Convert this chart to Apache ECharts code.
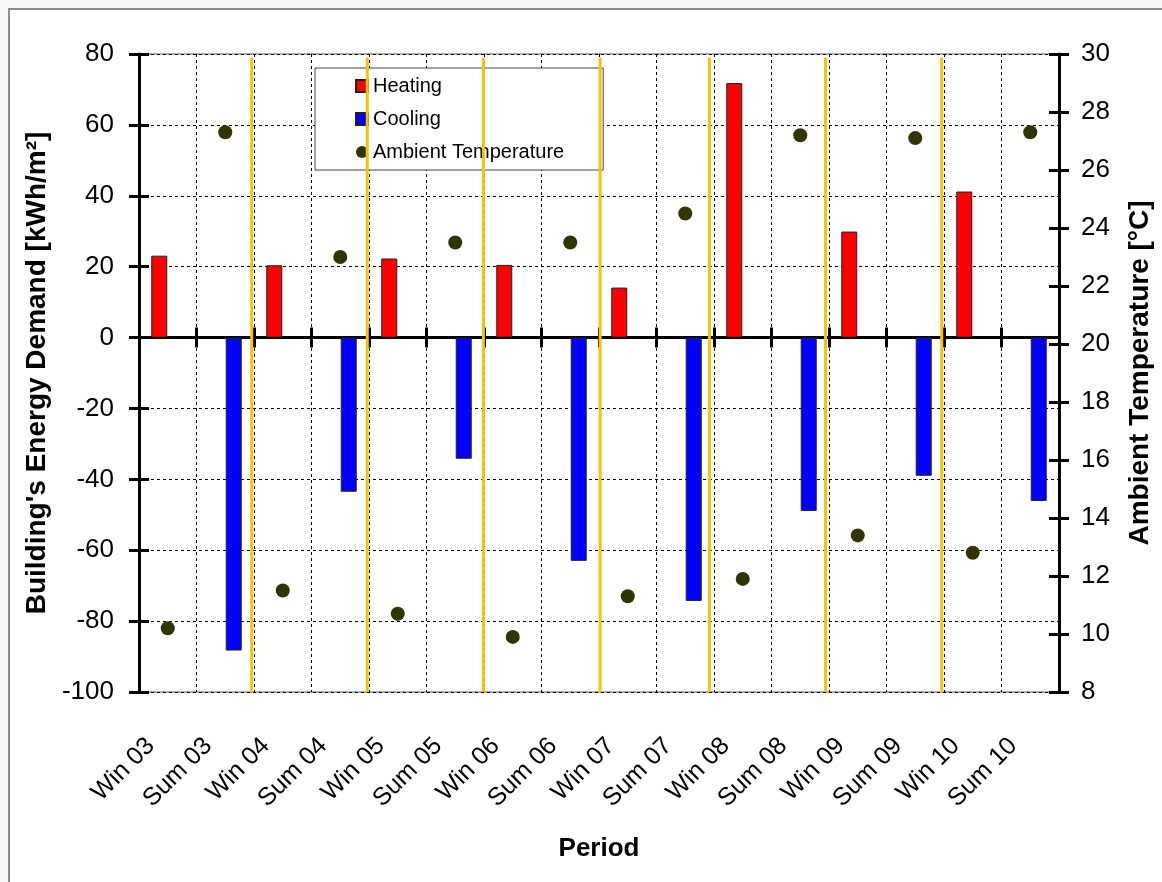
<!DOCTYPE html>
<html>
<head>
<meta charset="utf-8">
<script src="https://cdn.jsdelivr.net/npm/echarts@6/dist/echarts.min.js"></script>
<style>
html,body{margin:0;padding:0;background:#f8f8fa;width:1162px;height:882px;overflow:hidden;}
#frame{position:absolute;left:8px;top:8px;width:1170px;height:890px;border-left:2px solid #8c8c8c;border-top:2px solid #8c8c8c;background:#fff;}
#chart{position:absolute;left:0;top:0;width:1162px;height:882px;}
</style>
</head>
<body>
<div id="frame"></div>
<div id="chart"></div>
<script>
const categories = ['Win 03','Sum 03','Win 04','Sum 04','Win 05','Sum 05','Win 06','Sum 06','Win 07','Sum 07','Win 08','Sum 08','Win 09','Sum 09','Win 10','Sum 10'];
const heating = [23.1,null,20.4,null,22.3,null,20.5,null,14.1,null,71.8,null,29.9,null,41.2,null];
const cooling = [null,-88.3,null,-43.5,null,-34.2,null,-63.0,null,-74.3,null,-48.9,null,-39.0,null,-46.1];
const temperature = [10.2,27.3,11.5,23.0,10.7,23.5,9.9,23.5,11.3,24.5,11.9,27.2,13.4,27.1,12.8,27.3];
const dividers = [1.96,3.97,5.99,8.02,9.92,11.94,13.96];
const leftMin = -100, leftMax = 80, leftStep = 20;
const rightMin = 8, rightMax = 30, rightStep = 2;

const FONT = 'Liberation Sans, Arial, sans-serif';
const chart = echarts.init(document.getElementById('chart'), null, {renderer:'canvas'});

const option = {
  backgroundColor: 'transparent',
  textStyle: {fontFamily: FONT, color:'#000'},
  grid: {left:139, right:103, top:54, bottom:190, show:true, borderColor:'#555', borderWidth:1, backgroundColor:'transparent'},
  legend: {
    orient:'vertical', left:315, top:68,
    padding:[8,39,8,40], itemGap:13, itemWidth:12, itemHeight:12,
    backgroundColor:'#fff', borderColor:'#444', borderWidth:1,
    textStyle:{fontFamily:FONT, fontSize:20, color:'#000'},
    data:[
      {name:'Heating', icon:'rect'},
      {name:'Cooling', icon:'rect'},
      {name:'Ambient Temperature', icon:'circle'}
    ]
  },
  xAxis: [
    {
      type:'category', data:categories, position:'bottom', boundaryGap:true,
      axisLine:{show:false, onZero:false}, axisTick:{show:false},
      splitLine:{show:true, lineStyle:{color:'#000', type:[3,3], width:1}},
      axisLabel:{rotate:45, fontSize:25, color:'#000', fontFamily:FONT, margin:33, interval:0, padding:[0,24,0,0]},
      name:'Period', nameLocation:'middle', nameGap:144,
      nameTextStyle:{fontFamily:FONT, fontSize:26, fontWeight:'bold', color:'#000'}
    },
    {
      type:'category', data:categories, position:'bottom', boundaryGap:true,
      axisLine:{show:true, onZero:true, onZeroAxisIndex:0, lineStyle:{color:'#000', width:3}},
      axisTick:{show:true, inside:false, length:10, interval:0, lineStyle:{color:'#000', width:3}},
      axisLabel:{show:false}, splitLine:{show:false}
    },
    {
      type:'category', data:categories, position:'bottom', boundaryGap:true,
      axisLine:{show:false, onZero:true, onZeroAxisIndex:0},
      axisTick:{show:true, inside:true, length:10, interval:0, lineStyle:{color:'#000', width:3}},
      axisLabel:{show:false}, splitLine:{show:false}
    },
    {
      type:'value', min:0, max:categories.length, show:false, position:'top'
    }
  ],
  yAxis: [
    {
      type:'value', min:leftMin, max:leftMax, interval:leftStep, position:'left',
      axisLine:{show:true, lineStyle:{color:'#000', width:3}},
      axisTick:{show:true, length:10, lineStyle:{color:'#000', width:3}},
      axisLabel:{fontSize:26, color:'#000', fontFamily:FONT, margin:25},
      splitLine:{show:true, lineStyle:{color:'#000', type:[3,3], width:1}},
      name:"Building's Energy Demand [kWh/m²]", nameLocation:'middle', nameGap:73,
      nameTextStyle:{fontFamily:FONT, fontSize:28, fontWeight:'bold', color:'#000'}
    },
    {
      type:'value', min:rightMin, max:rightMax, interval:rightStep, position:'right',
      axisLine:{show:true, lineStyle:{color:'#000', width:3}},
      axisTick:{show:true, length:10, lineStyle:{color:'#000', width:3}},
      axisLabel:{fontSize:26, color:'#000', fontFamily:FONT, margin:22},
      splitLine:{show:false},
      name:'Ambient Temperature [°C]', nameLocation:'middle', nameGap:67,
      nameTextStyle:{fontFamily:FONT, fontSize:28, fontWeight:'bold', color:'#000'}
    },
    {
      type:'value', min:leftMin, max:leftMax, interval:leftStep, position:'left',
      axisLine:{show:false}, axisTick:{show:true, inside:true, length:10, lineStyle:{color:'#000', width:3}},
      axisLabel:{show:false}, splitLine:{show:false}
    },
    {
      type:'value', min:rightMin, max:rightMax, interval:rightStep, position:'right',
      axisLine:{show:false}, axisTick:{show:true, inside:true, length:10, lineStyle:{color:'#000', width:3}},
      axisLabel:{show:false}, splitLine:{show:false}
    }
  ],
  series: [
    {
      name:'Heating', type:'bar', xAxisIndex:0, yAxisIndex:0, data:heating,
      barWidth:16, barGap:'6%',
      itemStyle:{color:'#ff0000', borderColor:'#222', borderWidth:1}
    },
    {
      name:'Cooling', type:'bar', xAxisIndex:0, yAxisIndex:0, data:cooling,
      barWidth:16, barGap:'6%',
      itemStyle:{color:'#0000ff', borderColor:'#222', borderWidth:1}
    },
    {
      name:'Ambient Temperature', type:'scatter', xAxisIndex:0, yAxisIndex:1, data:temperature,
      symbol:'circle', symbolSize:14, z:5,
      itemStyle:{color:'#333300', opacity:1}
    },
    {
      name:'dividers', type:'custom', xAxisIndex:3, yAxisIndex:0, z:4,
      data:dividers.map(d => [d]),
      renderItem: function(params, api){
        const p1 = api.coord([api.value(0), leftMax - 1]);
        const p2 = api.coord([api.value(0), leftMin]);
        return {type:'line', shape:{x1:p1[0], y1:p1[1], x2:p2[0], y2:p2[1]}, style:{stroke:'#ffc000', lineWidth:3}};
      }
    }
  ]
};
chart.setOption(option);
</script>
</body>
</html>
